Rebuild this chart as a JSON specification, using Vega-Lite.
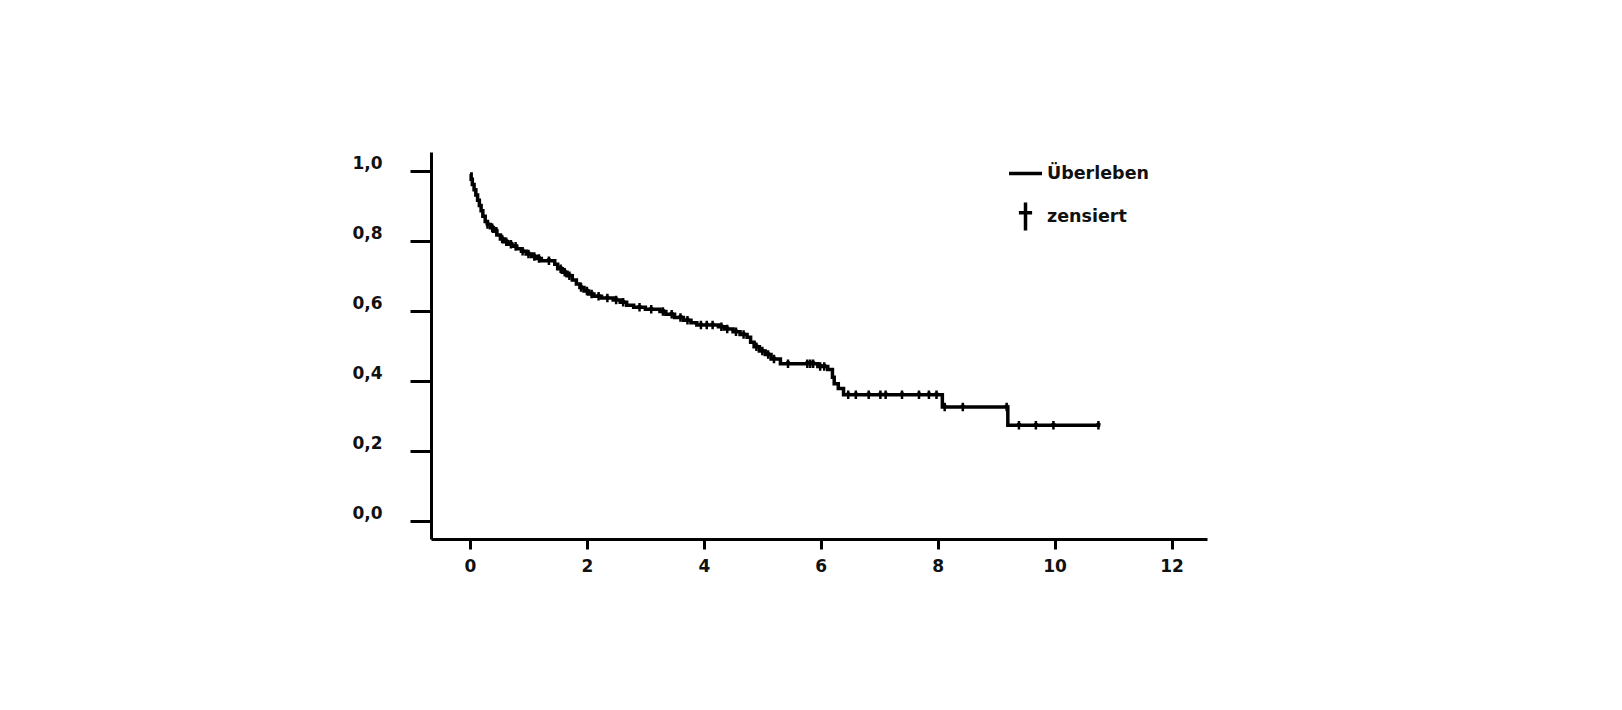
{
  "$schema": "https://vega.github.io/schema/vega-lite/v6.json",
  "description": "Kaplan-Meier Überlebenskurve mit zensierten Fällen",
  "autosize": "none",
  "width": 776,
  "height": 387,
  "padding": {"left": 431, "top": 152, "right": 415, "bottom": 171},
  "background": "white",
  "config": {
    "view": {"stroke": null},
    "font": "DejaVu Sans"
  },
  "datasets": {
    "curve": [
      {"t": 0, "s": 0.99}, {"t": 0.02, "s": 0.975}, {"t": 0.04, "s": 0.96},
      {"t": 0.07, "s": 0.945}, {"t": 0.1, "s": 0.93}, {"t": 0.13, "s": 0.915},
      {"t": 0.16, "s": 0.9}, {"t": 0.19, "s": 0.885}, {"t": 0.22, "s": 0.87},
      {"t": 0.26, "s": 0.855}, {"t": 0.3, "s": 0.846}, {"t": 0.35, "s": 0.837},
      {"t": 0.4, "s": 0.827}, {"t": 0.46, "s": 0.816}, {"t": 0.52, "s": 0.805},
      {"t": 0.58, "s": 0.797}, {"t": 0.65, "s": 0.79}, {"t": 0.72, "s": 0.784},
      {"t": 0.8, "s": 0.777}, {"t": 0.88, "s": 0.77}, {"t": 0.96, "s": 0.762},
      {"t": 1.05, "s": 0.755}, {"t": 1.14, "s": 0.749}, {"t": 1.22, "s": 0.743},
      {"t": 1.45, "s": 0.733}, {"t": 1.5, "s": 0.72}, {"t": 1.58, "s": 0.71},
      {"t": 1.66, "s": 0.7}, {"t": 1.75, "s": 0.688}, {"t": 1.82, "s": 0.676},
      {"t": 1.88, "s": 0.666}, {"t": 1.95, "s": 0.656}, {"t": 2.03, "s": 0.648},
      {"t": 2.12, "s": 0.641}, {"t": 2.25, "s": 0.636}, {"t": 2.45, "s": 0.631},
      {"t": 2.57, "s": 0.624}, {"t": 2.68, "s": 0.616}, {"t": 2.8, "s": 0.61},
      {"t": 3.0, "s": 0.604}, {"t": 3.25, "s": 0.598}, {"t": 3.35, "s": 0.59},
      {"t": 3.5, "s": 0.581}, {"t": 3.65, "s": 0.573}, {"t": 3.78, "s": 0.566},
      {"t": 3.88, "s": 0.559}, {"t": 4.25, "s": 0.554}, {"t": 4.35, "s": 0.548},
      {"t": 4.5, "s": 0.54}, {"t": 4.62, "s": 0.532}, {"t": 4.74, "s": 0.524},
      {"t": 4.8, "s": 0.51}, {"t": 4.86, "s": 0.497}, {"t": 4.95, "s": 0.485},
      {"t": 5.05, "s": 0.475}, {"t": 5.15, "s": 0.462}, {"t": 5.31, "s": 0.449},
      {"t": 5.95, "s": 0.441}, {"t": 6.12, "s": 0.432}, {"t": 6.2, "s": 0.41},
      {"t": 6.23, "s": 0.392}, {"t": 6.3, "s": 0.378}, {"t": 6.39, "s": 0.36},
      {"t": 8.08, "s": 0.325}, {"t": 9.2, "s": 0.273}, {"t": 10.78, "s": 0.273}
    ],
    "censored": [
      {"t": 0.3, "s": 0.846, "series": "zensiert"}, {"t": 0.38, "s": 0.837, "series": "zensiert"},
      {"t": 0.45, "s": 0.827, "series": "zensiert"}, {"t": 0.55, "s": 0.805, "series": "zensiert"},
      {"t": 0.62, "s": 0.797, "series": "zensiert"}, {"t": 0.7, "s": 0.79, "series": "zensiert"},
      {"t": 0.78, "s": 0.784, "series": "zensiert"}, {"t": 0.9, "s": 0.77, "series": "zensiert"},
      {"t": 1.0, "s": 0.762, "series": "zensiert"}, {"t": 1.1, "s": 0.755, "series": "zensiert"},
      {"t": 1.18, "s": 0.749, "series": "zensiert"}, {"t": 1.35, "s": 0.743, "series": "zensiert"},
      {"t": 1.55, "s": 0.72, "series": "zensiert"}, {"t": 1.62, "s": 0.71, "series": "zensiert"},
      {"t": 1.7, "s": 0.7, "series": "zensiert"}, {"t": 1.9, "s": 0.666, "series": "zensiert"},
      {"t": 2.0, "s": 0.656, "series": "zensiert"}, {"t": 2.08, "s": 0.648, "series": "zensiert"},
      {"t": 2.2, "s": 0.641, "series": "zensiert"}, {"t": 2.35, "s": 0.636, "series": "zensiert"},
      {"t": 2.5, "s": 0.631, "series": "zensiert"}, {"t": 2.62, "s": 0.624, "series": "zensiert"},
      {"t": 2.9, "s": 0.61, "series": "zensiert"}, {"t": 3.1, "s": 0.604, "series": "zensiert"},
      {"t": 3.3, "s": 0.598, "series": "zensiert"}, {"t": 3.45, "s": 0.59, "series": "zensiert"},
      {"t": 3.6, "s": 0.581, "series": "zensiert"}, {"t": 3.72, "s": 0.573, "series": "zensiert"},
      {"t": 3.95, "s": 0.559, "series": "zensiert"}, {"t": 4.05, "s": 0.559, "series": "zensiert"},
      {"t": 4.15, "s": 0.559, "series": "zensiert"}, {"t": 4.3, "s": 0.554, "series": "zensiert"},
      {"t": 4.4, "s": 0.548, "series": "zensiert"}, {"t": 4.55, "s": 0.54, "series": "zensiert"},
      {"t": 4.68, "s": 0.532, "series": "zensiert"}, {"t": 4.9, "s": 0.497, "series": "zensiert"},
      {"t": 5.0, "s": 0.485, "series": "zensiert"}, {"t": 5.1, "s": 0.475, "series": "zensiert"},
      {"t": 5.2, "s": 0.462, "series": "zensiert"}, {"t": 5.44, "s": 0.449, "series": "zensiert"},
      {"t": 5.77, "s": 0.449, "series": "zensiert"}, {"t": 5.82, "s": 0.449, "series": "zensiert"},
      {"t": 5.87, "s": 0.449, "series": "zensiert"}, {"t": 5.99, "s": 0.441, "series": "zensiert"},
      {"t": 6.06, "s": 0.441, "series": "zensiert"}, {"t": 6.47, "s": 0.36, "series": "zensiert"},
      {"t": 6.6, "s": 0.36, "series": "zensiert"}, {"t": 6.82, "s": 0.36, "series": "zensiert"},
      {"t": 7.02, "s": 0.36, "series": "zensiert"}, {"t": 7.11, "s": 0.36, "series": "zensiert"},
      {"t": 7.39, "s": 0.36, "series": "zensiert"}, {"t": 7.68, "s": 0.36, "series": "zensiert"},
      {"t": 7.85, "s": 0.36, "series": "zensiert"}, {"t": 7.98, "s": 0.36, "series": "zensiert"},
      {"t": 8.12, "s": 0.325, "series": "zensiert"}, {"t": 8.43, "s": 0.325, "series": "zensiert"},
      {"t": 9.18, "s": 0.325, "series": "zensiert"}, {"t": 9.39, "s": 0.273, "series": "zensiert"},
      {"t": 9.68, "s": 0.273, "series": "zensiert"}, {"t": 9.98, "s": 0.273, "series": "zensiert"},
      {"t": 10.75, "s": 0.273, "series": "zensiert"}
    ]
  },
  "encoding": {
    "x": {
      "field": "t",
      "type": "quantitative",
      "scale": {"domain": [-0.667, 12.607], "nice": false, "zero": false},
      "axis": {
        "title": null,
        "grid": false,
        "values": [0, 2, 4, 6, 8, 10, 12],
        "domainColor": "black",
        "domainWidth": 3,
        "tickColor": "black",
        "tickWidth": 3,
        "tickSize": 10,
        "labelFont": "DejaVu Sans",
        "labelFontSize": 17,
        "labelFontWeight": "bold",
        "labelColor": "#111",
        "labelPadding": 9
      }
    },
    "y": {
      "field": "s",
      "type": "quantitative",
      "scale": {"domain": [-0.0514, 1.053], "nice": false, "zero": false},
      "axis": {
        "title": null,
        "grid": false,
        "values": [0, 0.2, 0.4, 0.6, 0.8, 1],
        "labelExpr": "replace(format(datum.value, '.1f'), '.', ',')",
        "domainColor": "black",
        "domainWidth": 3,
        "tickColor": "black",
        "tickWidth": 3,
        "tickSize": 21,
        "labelFont": "DejaVu Sans",
        "labelFontSize": 17,
        "labelFontWeight": "bold",
        "labelColor": "#111",
        "labelPadding": 28,
        "labelOffset": -7
      }
    }
  },
  "layer": [
    {
      "data": {"name": "curve"},
      "mark": {"type": "line", "interpolate": "step-after", "color": "black", "strokeWidth": 3.5}
    },
    {
      "data": {"name": "censored"},
      "mark": {"type": "point", "filled": false, "color": "black", "strokeWidth": 2.5, "size": 100, "opacity": 1},
      "encoding": {
        "shape": {
          "field": "series",
          "type": "nominal",
          "scale": {
            "domain": ["Überleben", "zensiert"],
            "range": ["M-1,0H1", "M0,-0.85V0.85M-0.4,-0.22H0.4"]
          },
          "legend": {
            "title": null,
            "orient": "none",
            "legendX": 576,
            "legendY": 3,
            "symbolSize": 1089,
            "symbolStrokeWidth": 3.5,
            "symbolStrokeColor": "black",
            "symbolFillColor": "transparent",
            "symbolOpacity": 1,
            "labelFont": "DejaVu Sans",
            "labelFontSize": 17.5,
            "labelFontWeight": "bold",
            "labelColor": "#111",
            "labelOffset": 3,
            "rowPadding": 13
          }
        }
      }
    }
  ]
}
